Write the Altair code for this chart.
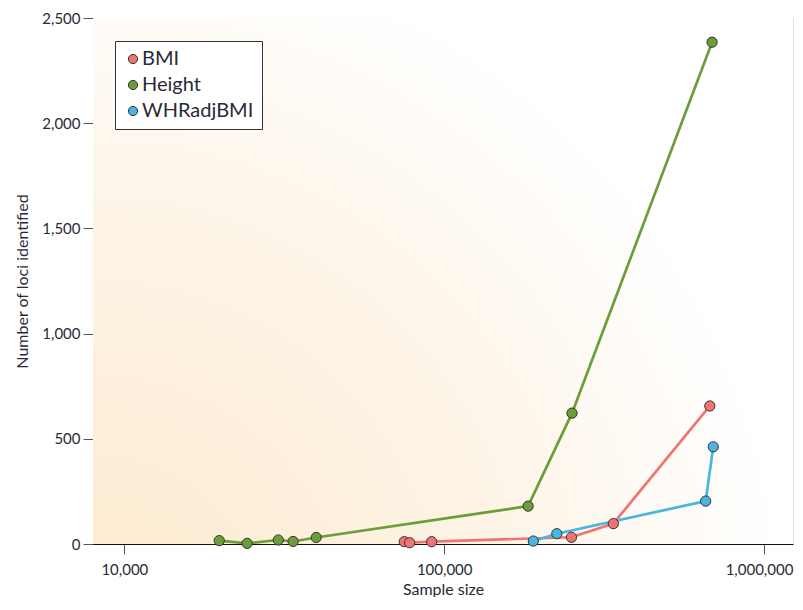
import altair as alt
import pandas as pd

# ---- data ----
series_names = ["BMI", "Height", "WHRadjBMI"]
series_colors = ["#f07474", "#6b9e38", "#48b6e0"]

bmi_n = [75000, 78000, 91400, 250000, 338000, 677000]
bmi_loci = [11, 6, 11, 32, 97, 656]

height_n = [19800, 24200, 30300, 33700, 39800, 183000, 251000, 688000]
height_loci = [16, 3, 19, 12, 31, 180, 622, 2385]

whr_n = [190000, 225000, 657000, 694000]
whr_loci = [14, 49, 204, 462]

x_ticks = [10000, 100000, 1000000]
y_ticks = [0, 500, 1000, 1500, 2000, 2500]

rows = []
for name, xs, ys in [("BMI", bmi_n, bmi_loci), ("Height", height_n, height_loci),
                     ("WHRadjBMI", whr_n, whr_loci)]:
    for i, (a, b) in enumerate(zip(xs, ys)):
        rows.append({"series": name, "line_series": name, "n": a, "loci": b, "idx": i})
df = pd.DataFrame(rows)

W, H = 700, 526
FONT = "Lato"
TXT = "#2a2a36"

x_enc = alt.X("n:Q", scale=alt.Scale(type="log", domain=[7980, 1232000], nice=False),
              axis=alt.Axis(values=x_ticks, labelExpr="format(datum.value, ',')",
                            title="Sample size", grid=False,
                            tickSize=10, tickColor="#555555", domainColor="#111111",
                            labelFontSize=15, titleFontSize=16, labelPadding=8,
                            titlePadding=4, labelColor=TXT, titleColor=TXT,
                            labelFont=FONT, titleFont=FONT, titleFontWeight="normal",
                            labelFlush=False,
                            labelOffset={"condition": {"test": "datum.value >= 1000000",
                                                       "value": -5},
                                         "value": 0}))
y_enc = alt.Y("loci:Q", scale=alt.Scale(domain=[0, 2500], nice=False),
              axis=alt.Axis(values=y_ticks, labelExpr="format(datum.value, ',')",
                            title="Number of loci identified",
                            grid=False, tickSize=10, tickColor="#555555",
                            domainColor="#111111", labelFontSize=15, titleFontSize=16,
                            labelPadding=3, titlePadding=11, labelColor=TXT,
                            titleColor=TXT, labelFont=FONT, titleFont=FONT,
                            titleFontWeight="normal"))

bg = alt.Chart(pd.DataFrame({"a": [1]})).mark_rect(
    fill=alt.RadialGradient(
        gradient="radial",
        stops=[alt.GradientStop(offset=0, color="#fde9cc"),
               alt.GradientStop(offset=0.55, color="#fdf3e5"),
               alt.GradientStop(offset=1, color="#ffffff")],
        x1=0, y1=1, r1=0, x2=0, y2=1, r2=1.0),
    strokeWidth=0,
).encode(x=alt.value(0), x2=alt.value(W), y=alt.value(0), y2=alt.value(H))

lines = alt.Chart(df).mark_line(strokeWidth=2.7).encode(
    x=x_enc, y=y_enc,
    stroke=alt.Stroke("line_series:N",
                      scale=alt.Scale(domain=series_names, range=series_colors),
                      legend=None),
    order="idx:Q",
    detail="line_series:N",
)

points = alt.Chart(df).mark_circle(size=105, opacity=1, stroke="#333333",
                                   strokeWidth=1).encode(
    x=x_enc, y=y_enc,
    fill=alt.Fill("series:N", scale=alt.Scale(domain=series_names, range=series_colors),
                  legend=alt.Legend(title=None, orient="none", legendX=22, legendY=23,
                                    padding=8, rowPadding=6, strokeColor="#333333",
                                    fillColor="#ffffff", labelFontSize=20,
                                    labelFont=FONT, labelColor=TXT, symbolType="circle",
                                    symbolSize=85, symbolStrokeColor="#333333",
                                    symbolStrokeWidth=1, labelOffset={"expr": "-1"},
                                    labelLimit=300)),
)

chart = alt.layer(bg, lines, points).resolve_scale(
    fill="independent", stroke="independent"
).resolve_legend(fill="independent", stroke="independent").properties(
    width=W, height=H,
    autosize=alt.AutoSizeParams(type="none"),
    padding={"left": 85, "top": 10, "right": 2, "bottom": 53},
).configure_view(stroke=None).configure(background="#ffffff")

chart.save("out.html", embed_options={"renderer": "svg", "actions": False})
